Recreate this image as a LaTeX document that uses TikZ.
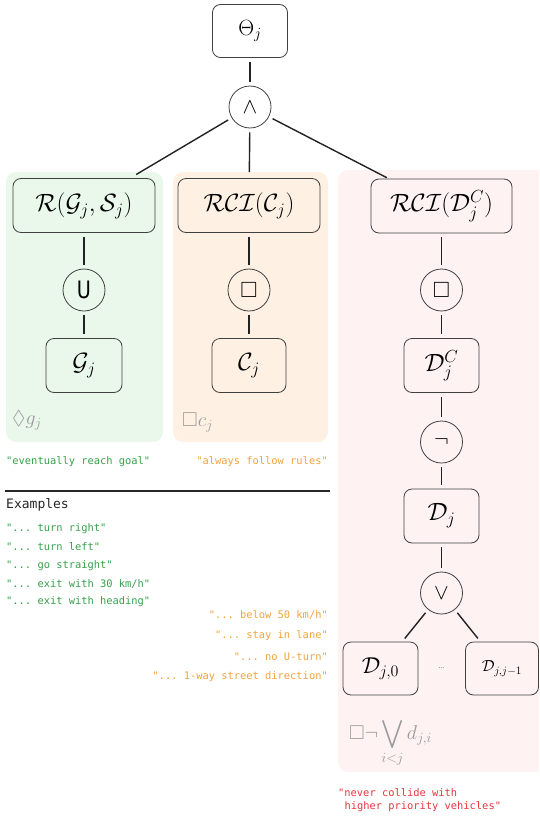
\RequirePackage{fix-cm}
\documentclass[tikz,border=0pt]{standalone}
\usepackage{amsmath,amssymb}
\usepackage{fontspec}
\setmonofont{DejaVu Sans Mono}
\setsansfont{DejaVu Sans}
\definecolor{gfill}{HTML}{EAF8EC}
\definecolor{ofill}{HTML}{FEF1E4}
\definecolor{pfill}{HTML}{FEF2F2}
\definecolor{gtext}{HTML}{35A04A}
\definecolor{otext}{HTML}{F2A23A}
\definecolor{rtext}{HTML}{E8353D}
\definecolor{ltext}{HTML}{9A9A9A}
\definecolor{edge}{HTML}{222222}
\begin{document}
\begin{tikzpicture}[x=1pt,y=-1pt,
  mbox/.style={draw=black!75, line width=0.8pt, rounded corners=8pt, inner sep=0pt, minimum height=54pt, font=\fontsize{25}{29}\selectfont},
  opc/.style={draw=black!75, line width=0.8pt, circle, inner sep=0pt, minimum size=42pt, font=\fontsize{22}{26}\selectfont},
  conn/.style={draw=edge, line width=1.4pt, shorten >=4pt, shorten <=4pt},
  mono/.style={font=\ttfamily\fontsize{10.4}{12}\selectfont, inner sep=0pt},
  faint/.style={text=ltext, inner sep=0pt, font=\fontsize{20}{24}\selectfont}]
\useasboundingbox (0,0) rectangle (539,819);
\begin{scope}
\clip (0,0) rectangle (539,819);
\fill[gfill, rounded corners=10pt] (6,172) rectangle (163,442);
\fill[ofill, rounded corners=10pt] (173,172) rectangle (328,442);
\fill[pfill, rounded corners=10pt] (338,170) rectangle (552,772);
\end{scope}

\node[mbox, minimum width=75pt, minimum height=53pt, font=\fontsize{22}{26}\selectfont] (theta) at (250,31) {$\Theta_j$};
\node[opc] (and) at (250,107) {$\wedge$};

\node[mbox, minimum width=142pt] (R) at (84,205.5) {$\mathcal{R}(\mathcal{G}_j,\mathcal{S}_j)$};
\node[opc] (U) at (84,290) {\fontsize{24}{28}\selectfont\textsf{\scalebox{0.8}[1]{U}}};
\node[mbox, minimum width=76pt] (G) at (84,365.5) {$\mathcal{G}_j$};

\node[mbox, minimum width=142pt] (RC) at (249,205.5) {$\mathcal{RCI}(\mathcal{C}_j)$};
\node[opc] (BC) at (249,290) {$\Box$};
\node[mbox, minimum width=74pt] (C) at (249,365.5) {$\mathcal{C}_j$};

\node[mbox, minimum width=141pt] (RD) at (441.5,206) {$\mathcal{RCI}(\mathcal{D}^C_j)$};
\node[opc] (BD) at (441.5,290) {$\Box$};
\node[mbox, minimum width=75pt] (DC) at (441.5,365.5) {$\mathcal{D}^C_j$};
\node[opc] (neg) at (441.5,442) {$\neg$};
\node[mbox, minimum width=75pt] (D) at (441.5,516) {$\mathcal{D}_j$};
\node[opc] (vee) at (441.5,593) {$\vee$};
\node[mbox, minimum width=75pt, minimum height=53pt, font=\fontsize{23}{27}\selectfont] (D0) at (380.5,668.5) {$\mathcal{D}_{j,0}$};
\node[mbox, minimum width=73pt, minimum height=53pt, font=\fontsize{16}{19}\selectfont] (DJ) at (502,668.5) {$\mathcal{D}_{j,j-1}$};
\node[font=\fontsize{9}{10}\selectfont, text=black!70] (dots) at (441.5,668) {\dots};

\path[conn] (theta) -- (and);
\path[conn, shorten >=7pt] (and) -- (R);
\path[conn, shorten >=6pt] (and) -- (RC);
\path[conn, shorten >=2pt] (and) -- (RD);
\path[conn] (R) -- (U);
\path[conn] (U) -- (G);
\path[conn] (RC) -- (BC);
\path[conn] (BC) -- (C);
\path[conn] (RD) -- (BD);
\path[conn] (BD) -- (DC);
\path[conn] (DC) -- (neg);
\path[conn] (neg) -- (D);
\path[conn] (D) -- (vee);
\path[conn] (vee) -- (D0);
\path[conn] (vee) -- (DJ);

\node[faint, anchor=west] (lg) at (12,420) {$\Diamond g_j$};
\node[faint, anchor=west] (lc) at (182,423) {$\Box c_j$};
\node[faint, anchor=west] (ld) at (349,743) {$\Box\neg\displaystyle\bigvee_{i<j} d_{j,i}$};

\node[mono, text=gtext, anchor=west] (t1) at (6,462) {"eventually reach goal"};
\node[mono, text=otext, anchor=east] (t2) at (328,462) {"always follow rules"};
\coordinate (ruleA) at (5,491);
\coordinate (ruleB) at (330,491);
\draw[line width=2pt, draw=black!85] (ruleA) -- (ruleB);
\node[font=\ttfamily\fontsize{13}{15}\selectfont, text=black!85, anchor=west, inner sep=0pt] (ex) at (6,505) {Examples};
\node[mono, text=gtext, anchor=west] (g1) at (6,529) {"... turn right"};
\node[mono, text=gtext, anchor=west] (g2) at (6,547) {"... turn left"};
\node[mono, text=gtext, anchor=west] (g3) at (6,566) {"... go straight"};
\node[mono, text=gtext, anchor=west] (g4) at (6,584) {"... exit with 30 km/h"};
\node[mono, text=gtext, anchor=west] (g5) at (6,602) {"... exit with heading"};
\node[mono, text=otext, anchor=east] (o1) at (328,615) {"... below 50 km/h"};
\node[mono, text=otext, anchor=east] (o2) at (328,636) {"... stay in lane"};
\node[mono, text=otext, anchor=east] (o3) at (328,657) {"... no U-turn"};
\node[mono, text=otext, anchor=east] (o4) at (328,677) {"... 1-way street direction"};
\node[mono, text=rtext, anchor=west] (r1) at (338,793) {"never collide with};
\node[mono, text=rtext, anchor=west] (r2) at (344.3,807) {higher priority vehicles"};
\end{tikzpicture}
\end{document}
